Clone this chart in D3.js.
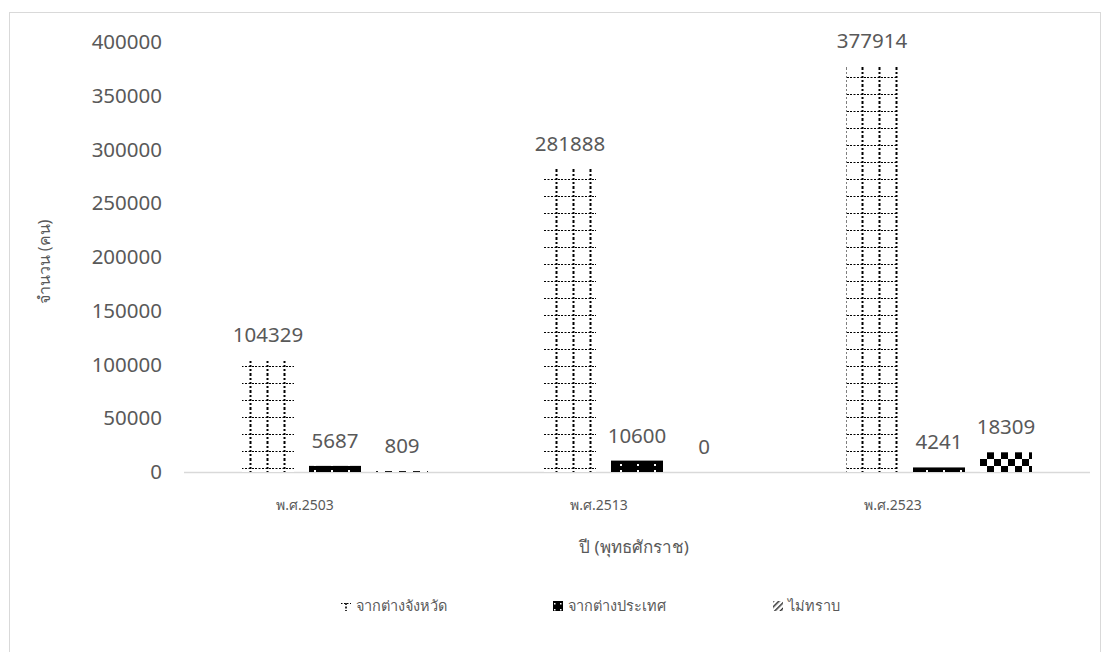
<!DOCTYPE html>
<html><head><meta charset="utf-8">
<script src="https://cdn.jsdelivr.net/npm/d3@7"></script>
<style>
html,body{margin:0;padding:0;background:#fff;}
text{font-family:"Noto Sans","DejaVu Sans",sans-serif;}
</style></head>
<body>
<svg id="chart" width="1107" height="652"></svg>
<script>
const categories = ["พ.ศ.2503", "พ.ศ.2513", "พ.ศ.2523"];
const seriesNames = ["จากต่างจังหวัด", "จากต่างประเทศ", "ไม่ทราบ"];
const fromProvinces = [104329, 281888, 377914];
const fromAbroad = [5687, 10600, 4241];
const unknown = [809, 0, 18309];
const yTicks = [0, 50000, 100000, 150000, 200000, 250000, 300000, 350000, 400000];
const yTitle = "จำนวน (คน)";
const xTitle = "ปี (พุทธศักราช)";

const seriesValues = [fromProvinces, fromAbroad, unknown];
const svg = d3.select("#chart");
const textColor = "#595959";

// patterns
const defs = svg.append("defs");
const p1 = defs.append("pattern").attr("id","pGrid").attr("patternUnits","userSpaceOnUse")
  .attr("width",17).attr("height",17).attr("x",0).attr("y",0);
p1.append("rect").attr("width",17).attr("height",17).attr("fill","#fff");
p1.append("line").attr("x1",12.5).attr("x2",12.5).attr("y1",0).attr("y2",17)
  .attr("stroke","#000").attr("stroke-width",2).attr("stroke-dasharray","2,2");
p1.append("line").attr("x1",0).attr("x2",17).attr("y1",9.5).attr("y2",9.5)
  .attr("stroke","#000").attr("stroke-width",1).attr("stroke-dasharray","2,1.5");

const pl = defs.append("pattern").attr("id","pGridLegend").attr("patternUnits","userSpaceOnUse")
  .attr("width",10).attr("height",10).attr("x",0).attr("y",-5);
pl.append("rect").attr("width",10).attr("height",10).attr("fill","#fff");
pl.append("line").attr("x1",5).attr("x2",5).attr("y1",2).attr("y2",10)
  .attr("stroke","#000").attr("stroke-width",1.6).attr("stroke-dasharray","2,1.5");
pl.append("line").attr("x1",0).attr("x2",10).attr("y1",2.5).attr("y2",2.5)
  .attr("stroke","#000").attr("stroke-width",1).attr("stroke-dasharray","1.5,1.5");

const p2 = defs.append("pattern").attr("id","pDots").attr("patternUnits","userSpaceOnUse")
  .attr("width",17).attr("height",6).attr("x",0).attr("y",0);
p2.append("rect").attr("width",17).attr("height",6).attr("fill","#000");
p2.append("rect").attr("x",8).attr("y",2).attr("width",2).attr("height",2).attr("fill","#fff");

const p2l = defs.append("pattern").attr("id","pDotsLegend").attr("patternUnits","userSpaceOnUse")
  .attr("width",6).attr("height",6).attr("x",0).attr("y",-5);
p2l.append("rect").attr("width",6).attr("height",6).attr("fill","#000");
p2l.append("rect").attr("x",1).attr("y",2).attr("width",1.5).attr("height",1.5).attr("fill","#fff");

const p3 = defs.append("pattern").attr("id","pCheck").attr("patternUnits","userSpaceOnUse")
  .attr("width",14).attr("height",14).attr("x",0).attr("y",11);
p3.append("rect").attr("width",14).attr("height",14).attr("fill","#fff");
p3.append("rect").attr("width",7).attr("height",7).attr("fill","#000");
p3.append("rect").attr("x",7).attr("y",7).attr("width",7).attr("height",7).attr("fill","#000");

const p4 = defs.append("pattern").attr("id","pHatch").attr("patternUnits","userSpaceOnUse")
  .attr("width",4).attr("height",4).attr("patternTransform","rotate(45)");
p4.append("rect").attr("width",4).attr("height",4).attr("fill","#fff");
p4.append("rect").attr("width",1.5).attr("height",4).attr("fill","#333");

const fills = ["url(#pGrid)","url(#pDots)","url(#pCheck)"];
const legendFills = ["url(#pGridLegend)","url(#pDotsLegend)","url(#pHatch)"];

// frame
svg.append("rect").attr("x",9.5).attr("y",12.5).attr("width",1091).attr("height",660)
  .attr("fill","none").attr("stroke","#d9d9d9").attr("stroke-width",1);

const y = d3.scaleLinear().domain([0,400000]).range([472,42]);
const x = d3.scaleBand().domain(categories).range([184,1090]);
const xLabel = d3.scaleBand().domain(categories).range([158,1040]);
const xs = d3.scaleBand().domain(d3.range(3)).range([58,244]).paddingInner(0.224);

// y axis labels
svg.append("g").selectAll("text").data(yTicks).join("text")
  .attr("x",162).attr("y",d=>y(d)).attr("dy","0.35em").attr("text-anchor","end")
  .attr("font-size",20.5).attr("fill",textColor).text(d=>d);

// baseline
svg.append("line").attr("x1",184).attr("x2",1090).attr("y1",y(0)+0.5).attr("y2",y(0)+0.5)
  .attr("stroke","#d9d9d9").attr("stroke-width",1.5);

// bars
const rows = [];
categories.forEach((c,i)=>seriesValues.forEach((s,j)=>rows.push({c, j, v:s[i]})));
svg.append("g").selectAll("rect").data(rows).join("rect")
  .attr("x",d=>x(d.c)+xs(d.j)).attr("width",xs.bandwidth())
  .attr("y",d=>y(d.v)).attr("height",d=>y(0)-y(d.v))
  .attr("fill",d=>fills[d.j]);

// data labels
svg.append("g").selectAll("text").data(rows).join("text")
  .attr("x",d=>x(d.c)+xs(d.j)+xs.bandwidth()/2).attr("y",d=>y(d.v)-18)
  .attr("text-anchor","middle").attr("font-size",20.5).attr("fill",textColor)
  .text(d=>d.v);

// category labels
svg.append("g").selectAll("text").data(categories).join("text")
  .attr("x",d=>xLabel(d)+xLabel.bandwidth()/2).attr("y",505).attr("dy","0.35em")
  .attr("text-anchor","middle").attr("font-size",14).attr("fill",textColor).text(d=>d);

// axis titles
svg.append("text").attr("x",634).attr("y",547).attr("dy","0.35em").attr("text-anchor","middle")
  .attr("font-size",17).attr("fill",textColor).text(xTitle);
svg.append("text").attr("transform","translate(44,262) rotate(-90)").attr("dy","0.35em")
  .attr("text-anchor","middle").attr("font-size",16).attr("fill",textColor).text(yTitle);

// legend
const legendX = [341, 553, 773];
const lg = svg.append("g").selectAll("g").data(seriesNames).join("g")
  .attr("transform",(d,i)=>`translate(${legendX[i]},606)`);
lg.append("rect").attr("x",0).attr("y",-5).attr("width",10).attr("height",10)
  .attr("fill",(d,i)=>legendFills[i]);
lg.append("text").attr("x",15).attr("y",0).attr("dy","0.35em").attr("font-size",14.5)
  .attr("fill",textColor).text(d=>d);
</script>
</body></html>
